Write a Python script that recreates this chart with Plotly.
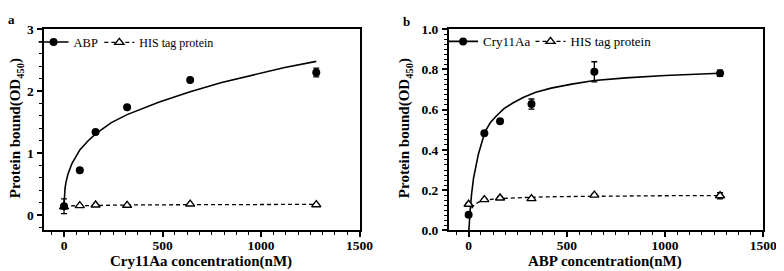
import plotly.graph_objects as go

W, H = 784, 271

# ---------------- data ----------------
conc = [0, 80, 160, 320, 640, 1280]

# panel a
abp_y = [0.14, 0.72, 1.34, 1.74, 2.18, 2.30]
abp_err = [0.12, 0.01, 0.01, 0.01, 0.01, 0.07]
his_a_y = [0.13, 0.15, 0.16, 0.155, 0.175, 0.165]
his_a_err = [0.01, 0.005, 0.005, 0.005, 0.005, 0.01]
fit_a_x = [0.3, 1, 2, 5, 10, 20, 40, 60, 80, 120, 160, 240, 320, 480, 640, 800, 960, 1120, 1280]
fit_a_y = [0.17, 0.26, 0.32, 0.43, 0.53, 0.66, 0.83, 0.95, 1.05, 1.19, 1.31, 1.49, 1.62, 1.82, 1.99, 2.14, 2.26, 2.38, 2.48]
hisfit_a_x = [0, 80, 160, 320, 640, 1280]
hisfit_a_y = [0.145, 0.15, 0.155, 0.16, 0.165, 0.17]

# panel b
cry_y = [0.078, 0.483, 0.542, 0.628, 0.788, 0.781]
cry_err = [0.005, 0.005, 0.005, 0.025, 0.05, 0.015]
his_b_y = [0.13, 0.153, 0.161, 0.158, 0.175, 0.172]
his_b_err = [0.005, 0.005, 0.005, 0.005, 0.005, 0.015]
fit_b_x = [0.5, 3, 8, 15, 25, 50, 83, 110, 142, 180, 225, 280, 342, 420, 525, 640, 800, 1000, 1280]
fit_b_y = [-0.01, 0.04, 0.10, 0.18, 0.26, 0.38, 0.49, 0.535, 0.57, 0.605, 0.633, 0.662, 0.687, 0.707, 0.727, 0.745, 0.758, 0.77, 0.781]
hisfit_b_x = [15, 30, 50, 80, 120, 160, 240, 320, 480, 640, 960, 1280]
hisfit_b_y = [0.11, 0.128, 0.14, 0.148, 0.155, 0.158, 0.162, 0.165, 0.168, 0.17, 0.172, 0.173]

x_ticks = [0, 500, 1000, 1500]
ya_ticks = [0, 1, 2, 3]
yb_ticks = [0.0, 0.2, 0.4, 0.6, 0.8, 1.0]

names_a = ["ABP", "HIS tag protein"]
names_b = ["Cry11Aa", "HIS tag protein"]
xtitle_a = "Cry11Aa concentration(nM)"
xtitle_b = "ABP concentration(nM)"
ytitle = "Protein bound(OD<sub>450</sub>)"

FONT = "Liberation Serif, Times New Roman, serif"
BLACK = "#000000"


def px(x):
    return x / W


def py(y):
    return 1 - y / H


fig = go.Figure()

err_style = dict(type="data", color=BLACK, thickness=1.3, width=3)
tri = dict(symbol="triangle-up", size=8, color="white", line=dict(color=BLACK, width=1.4))
dot = dict(symbol="circle", size=8, color=BLACK)


def add_panel(xa, ya, fx, fy, hx, hy, y1, e1, y2, e2, names, lg1, lg2):
    fig.add_trace(go.Scatter(x=hx, y=hy, mode="lines", line=dict(color=BLACK, width=1.3, dash="4px,3px"),
                             xaxis=xa, yaxis=ya, showlegend=False, hoverinfo="skip"))
    fig.add_trace(go.Scatter(x=fx, y=fy, mode="lines", line=dict(color=BLACK, width=1.6),
                             xaxis=xa, yaxis=ya, showlegend=False, hoverinfo="skip"))
    fig.add_trace(go.Scatter(x=conc, y=y2, mode="markers", marker=tri,
                             error_y=dict(array=e2, **err_style), xaxis=xa, yaxis=ya, showlegend=False))
    fig.add_trace(go.Scatter(x=conc, y=y1, mode="markers", marker=dot,
                             error_y=dict(array=e1, **err_style), xaxis=xa, yaxis=ya, showlegend=False))
    # legend entries
    fig.add_trace(go.Scatter(x=[None], y=[None], mode="lines+markers", name=names[0],
                             marker=dot, line=dict(color=BLACK, width=1.6), xaxis=xa, yaxis=ya, legend=lg1))
    fig.add_trace(go.Scatter(x=[None], y=[None], mode="lines+markers", name=names[1],
                             marker=tri, line=dict(color=BLACK, width=1.3, dash="4px,3px"),
                             xaxis=xa, yaxis=ya, legend=lg2))


add_panel("x", "y", fit_a_x, fit_a_y, hisfit_a_x, hisfit_a_y, abp_y, abp_err, his_a_y, his_a_err,
          names_a, "legend", "legend2")
add_panel("x2", "y2", fit_b_x, fit_b_y, hisfit_b_x, hisfit_b_y, cry_y, cry_err, his_b_y, his_b_err,
          names_b, "legend3", "legend4")

tickfont = dict(family=FONT, size=13.5, color=BLACK, weight="bold")


def xaxis(domain, anchor):
    return dict(domain=domain, anchor=anchor, range=[-100, 1500], tickvals=x_ticks,
                ticks="outside", ticklen=5, tickwidth=1.5, tickcolor=BLACK,
                showline=True, linewidth=2, linecolor=BLACK, mirror=True,
                showgrid=False, zeroline=False, tickfont=tickfont, ticklabelstandoff=-4,
                minor=dict(tick0=0, dtick=62.5, ticks="outside", ticklen=3, tickwidth=1, tickcolor=BLACK))


def yaxis(domain, anchor, rng, tv, mdt, fmt):
    return dict(domain=domain, anchor=anchor, range=rng, tickvals=tv, tickformat=fmt,
                ticks="outside", ticklen=5, tickwidth=1.5, tickcolor=BLACK,
                showline=True, linewidth=2, linecolor=BLACK, mirror=True,
                showgrid=False, zeroline=False, tickfont=tickfont, ticklabelstandoff=1,
                minor=dict(tick0=0, dtick=mdt, ticks="outside", ticklen=3, tickwidth=1, tickcolor=BLACK))


ydom = [py(228), py(15)]

legend_common = dict(orientation="h", bgcolor="rgba(0,0,0,0)", borderwidth=0,
                     xanchor="left", yanchor="middle", itemclick=False)


def leg(xc, yc, size):
    d = dict(legend_common)
    d.update(x=px(xc - 20), y=py(yc), font=dict(family=FONT, size=size, color=BLACK))
    return d


fig.update_layout(
    width=W, height=H, margin=dict(l=0, r=0, t=0, b=0),
    paper_bgcolor="white", plot_bgcolor="white",
    xaxis=xaxis([px(37), px(358)], "y"),
    yaxis=yaxis(ydom, "x", [-0.25, 3], ya_ticks, 0.2, "d"),
    xaxis2=xaxis([px(449), px(769)], "y2"),
    yaxis2=yaxis(ydom, "x2", [0, 1], yb_ticks, 0.025, ".1f"),
    legend=leg(46, 29, 12.5),
    legend2=leg(113, 29, 12),
    legend3=leg(463, 28, 13),
    legend4=leg(552, 28, 13),
    font=dict(family=FONT, color=BLACK),
)

title_font = dict(family=FONT, size=15, color=BLACK, weight="bold")
annos = [
    dict(text=xtitle_a, x=px(196), y=py(261), textangle=0),
    dict(text=xtitle_b, x=px(608), y=py(261), textangle=0),
    dict(text=ytitle, x=px(9), y=py(120), textangle=-90),
    dict(text=ytitle, x=px(405), y=py(120), textangle=-90),
]
for a in annos:
    fig.add_annotation(xref="paper", yref="paper", showarrow=False, font=title_font,
                       xanchor="center", yanchor="middle", **a)

for lab, xc, yc in [("a", 4, 5), ("b", 406, 7)]:
    fig.add_annotation(xref="paper", yref="paper", showarrow=False, text=lab, x=px(xc), y=py(yc),
                       xanchor="center", yanchor="middle",
                       font=dict(family=FONT, size=13, color=BLACK, weight="bold"))

fig.write_html("out.html")
